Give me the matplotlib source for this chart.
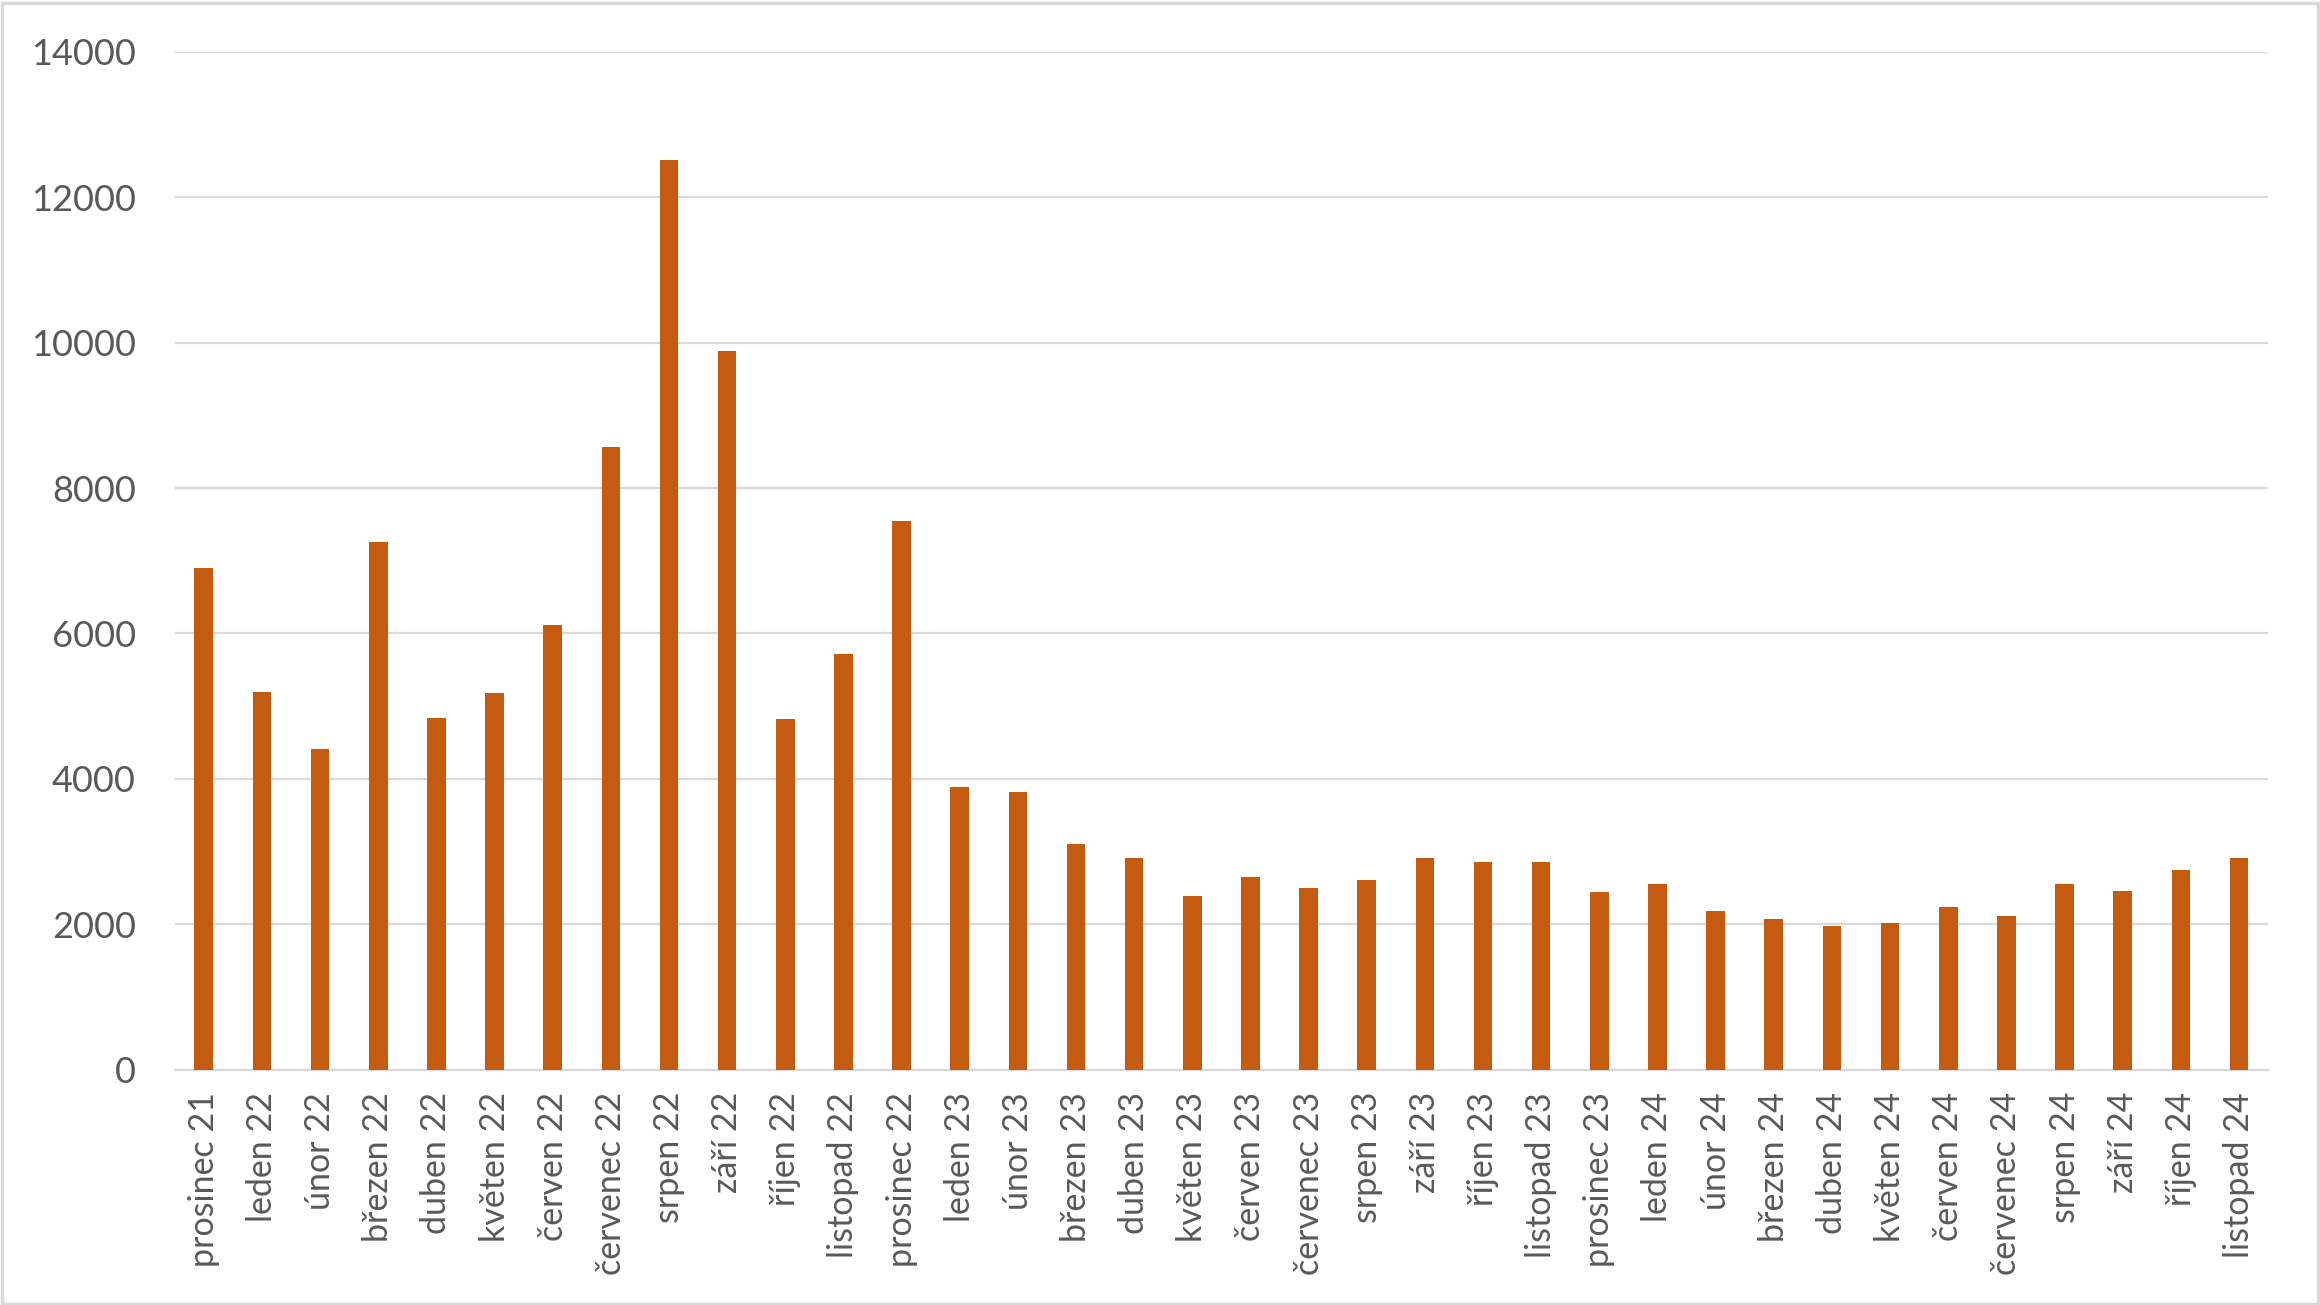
import matplotlib.pyplot as plt
from matplotlib.patches import Rectangle

months = ['prosinec 21', 'leden 22', 'únor 22', 'březen 22', 'duben 22', 'květen 22',
          'červen 22', 'červenec 22', 'srpen 22', 'září 22', 'říjen 22', 'listopad 22',
          'prosinec 22', 'leden 23', 'únor 23', 'březen 23', 'duben 23', 'květen 23',
          'červen 23', 'červenec 23', 'srpen 23', 'září 23', 'říjen 23', 'listopad 23',
          'prosinec 23', 'leden 24', 'únor 24', 'březen 24', 'duben 24', 'květen 24',
          'červen 24', 'červenec 24', 'srpen 24', 'září 24', 'říjen 24', 'listopad 24']

values = [6900, 5195, 4410, 7260, 4835, 5180,
          6115, 8565, 12515, 9890, 4825, 5717,
          7550, 3883, 3826, 3098, 2906, 2389,
          2650, 2499, 2604, 2906, 2851, 2851,
          2441, 2554, 2183, 2073, 1977, 2014,
          2238, 2114, 2554, 2458, 2746, 2911]

yticks = [0, 2000, 4000, 6000, 8000, 10000, 12000, 14000]

plt.rcParams['font.family'] = ['Lato', 'DejaVu Sans']

fig = plt.figure(figsize=(23.2, 13.05), dpi=100)
ax = fig.add_axes([0.0753, 0.1803, 0.9023, 0.7800])

x = list(range(len(months)))
ax.bar(x, values, width=0.32, color='#C55A11', zorder=3)

ax.set_xlim(-0.5, len(months) - 0.5)
ax.set_ylim(0, 14000)
ax.set_yticks(yticks)
ax.set_yticklabels([str(v) for v in yticks])
ax.set_xticks(x)
ax.set_xticklabels(months, rotation=90, va='top', ha='center')

ax.tick_params(axis='both', length=0, colors='#595959')
ax.tick_params(axis='y', pad=28, labelsize=26)
ax.tick_params(axis='x', pad=16, labelsize=24.5)

ax.grid(axis='y', color='#D9D9D9', linewidth=1.6, zorder=0)
for s in ['top', 'right', 'left']:
    ax.spines[s].set_visible(False)
ax.spines['bottom'].set_color('#D9D9D9')
ax.spines['bottom'].set_linewidth(1.6)

# light chart border like the original
fig.patches.append(Rectangle((0.001, 0.001), 0.998, 0.997, transform=fig.transFigure,
                             fill=False, edgecolor='#D9D9D9', linewidth=2.5))

plt.savefig('out.png', dpi=100)
